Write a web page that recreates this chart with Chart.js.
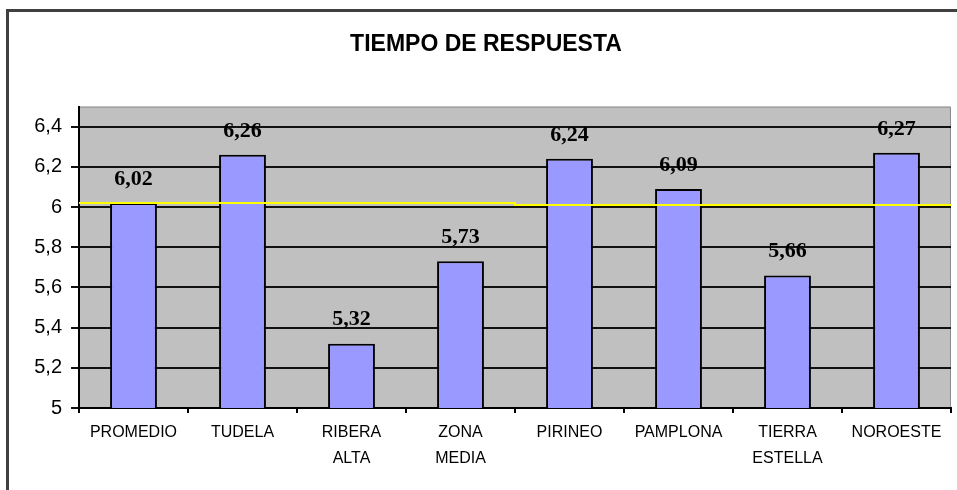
<!DOCTYPE html>
<html>
<head>
<meta charset="utf-8">
<script src="https://cdn.jsdelivr.net/npm/chart.js@4.4.1/dist/chart.umd.min.js"></script>
<style>
  html, body { margin: 0; padding: 0; background: #ffffff; }
  #c { display: block; }
</style>
</head>
<body>
<canvas id="c" width="957" height="490"></canvas>
<script>
// ---- data ----
const categories = ['PROMEDIO', 'TUDELA', ['RIBERA', 'ALTA'], ['ZONA', 'MEDIA'], 'PIRINEO', 'PAMPLONA', ['TIERRA', 'ESTELLA'], 'NOROESTE'];
const tiempos = [6.02, 6.26, 5.32, 5.73, 6.24, 6.09, 5.66, 6.27];
const yTicks = [5, 5.2, 5.4, 5.6, 5.8, 6, 6.2, 6.4];
const avgLineX = [0, 0.5, 0.5, 1];
const avgLineY = [6.02, 6.02, 6.01, 6.01];
const chartTitle = 'TIEMPO DE RESPUESTA';

const fmt = v => String(Math.round(v * 100) / 100).replace('.', ',');
const fmt2 = v => v.toFixed(2).replace('.', ',');

const framePlugin = {
  id: 'frame',
  beforeDraw(chart) {
    const ctx = chart.ctx;
    const a = chart.chartArea;
    ctx.save();
    ctx.fillStyle = '#ffffff';
    ctx.fillRect(0, 0, chart.width, chart.height);
    ctx.fillStyle = '#404040';
    ctx.fillRect(6, 9, chart.width, 3);
    ctx.fillRect(6, 9, 3, chart.height);
    ctx.fillStyle = '#c0c0c0';
    ctx.fillRect(a.left, a.top, a.right - a.left, a.bottom - a.top);
    ctx.strokeStyle = '#8c8c8c';
    ctx.lineWidth = 1;
    ctx.beginPath();
    ctx.moveTo(a.left, a.top + 0.5);
    ctx.lineTo(a.right - 0.5, a.top + 0.5);
    ctx.lineTo(a.right - 0.5, a.bottom);
    ctx.stroke();
    ctx.restore();
  },
  afterDatasetsDraw(chart) {
    const ctx = chart.ctx;
    const meta = chart.getDatasetMeta(0);
    const ds = chart.data.datasets[0];
    ctx.save();
    ctx.font = 'bold 22px "Liberation Serif", "DejaVu Serif", serif';
    ctx.fillStyle = '#000000';
    ctx.textAlign = 'center';
    ctx.textBaseline = 'middle';
    meta.data.forEach((bar, i) => {
      ctx.fillText(fmt2(ds.data[i]), bar.x, bar.y - 24);
    });
    ctx.restore();
  }
};

new Chart(document.getElementById('c'), {
  data: {
    labels: categories,
    datasets: [
      {
        type: 'bar',
        data: tiempos,
        backgroundColor: '#9999ff',
        borderColor: '#000000',
        borderWidth: 2,
        borderSkipped: 'bottom',
        grouped: false,
        categoryPercentage: 1,
        barPercentage: 0.43,
        order: 1,
        xAxisID: 'x',
        yAxisID: 'y'
      },
      {
        type: 'line',
        data: avgLineX.map((x, i) => ({ x: x, y: avgLineY[i] })),
        borderColor: '#ffff00',
        borderWidth: 2,
        pointRadius: 0,
        fill: false,
        tension: 0,
        order: 0,
        xAxisID: 'xl',
        yAxisID: 'y'
      }
    ]
  },
  options: {
    responsive: false,
    animation: false,
    devicePixelRatio: 1,
    layout: { padding: { left: 21, right: 6, top: 0, bottom: 0 } },
    plugins: {
      legend: { display: false },
      tooltip: { enabled: false },
      title: {
        display: true,
        text: chartTitle,
        color: '#000000',
        font: { family: '"Liberation Sans", Arial, sans-serif', size: 23, weight: 'bold', lineHeight: 1.2 },
        padding: { top: 31, bottom: 48 }
      }
    },
    scales: {
      x: {
        type: 'category',
        offset: true,
        grid: { display: true, drawOnChartArea: false, drawTicks: true, tickLength: 5, color: '#000000', lineWidth: 2, offset: true },
        border: { display: true, color: '#000000', width: 2 },
        ticks: {
          color: '#000000',
          maxRotation: 0,
          minRotation: 0,
          autoSkip: false,
          padding: 7,
          font: { family: '"Liberation Sans", Arial, sans-serif', size: 16, lineHeight: 1.6 }
        },
        afterFit(scale) { scale.height = 82; }
      },
      xl: {
        type: 'linear',
        display: false,
        min: 0,
        max: 1
      },
      y: {
        type: 'linear',
        min: 5,
        max: 6.5,
        afterBuildTicks(scale) { scale.ticks = yTicks.map(v => ({ value: v })); },
        grid: { color: '#111111', lineWidth: 2, tickLength: 8, drawTicks: true },
        border: { display: true, color: '#000000', width: 2 },
        ticks: {
          color: '#000000',
          padding: 9,
          font: { family: '"Liberation Sans", Arial, sans-serif', size: 20 },
          callback: v => fmt(v)
        },
        afterFit(scale) { scale.width = 58; }
      }
    }
  },
  plugins: [framePlugin]
});
</script>
</body>
</html>
